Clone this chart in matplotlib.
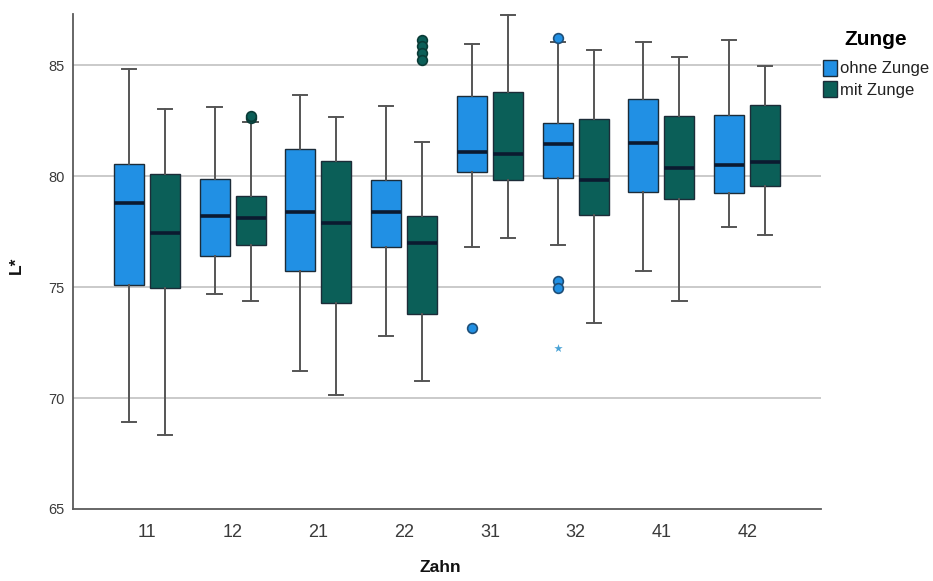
import matplotlib
matplotlib.use("Agg")
import matplotlib.pyplot as plt
from matplotlib.patches import Patch

plt.rcParams["font.family"] = ["Liberation Sans", "DejaVu Sans"]

# Teeth (x categories) and the two groups
teeth = ["11", "12", "21", "22", "31", "32", "41", "42"]
groups = ["ohne Zunge", "mit Zunge"]

# Box statistics for L* — ohne Zunge
ohne_lo = [68.9, 74.7, 71.2, 72.8, 76.8, 76.9, 75.7, 77.7]
ohne_q1 = [75.1, 76.4, 75.7, 76.8, 80.2, 79.9, 79.3, 79.25]
ohne_med = [78.8, 78.2, 78.4, 78.4, 81.1, 81.45, 81.5, 80.5]
ohne_q3 = [80.55, 79.85, 81.2, 79.8, 83.6, 82.4, 83.45, 82.75]
ohne_hi = [84.8, 83.1, 83.65, 83.15, 85.95, 86.05, 86.05, 86.15]
ohne_out = [[], [], [], [], [73.15], [86.2, 75.25, 74.95], [], []]
ohne_extreme = [[], [], [], [], [], [72.25], [], []]

# Box statistics for L* — mit Zunge
mit_lo = [68.35, 74.35, 70.15, 70.75, 77.2, 73.4, 74.35, 77.35]
mit_q1 = [74.95, 76.9, 74.3, 73.8, 79.8, 78.25, 78.95, 79.55]
mit_med = [77.45, 78.1, 77.9, 77.0, 81.0, 79.8, 80.35, 80.65]
mit_q3 = [80.1, 79.1, 80.7, 78.2, 83.8, 82.55, 82.7, 83.2]
mit_hi = [83.0, 82.45, 82.65, 81.55, 87.25, 85.7, 85.35, 84.95]
mit_out = [[], [82.6, 82.7], [], [86.15, 85.85, 85.55, 85.25], [], [], [], []]
mit_extreme = [[], [], [], [], [], [], [], []]

y_ticks = [65, 70, 75, 80, 85]

blue = "#2190e4"
green = "#0b5f58"
edge = "#1c2c38"

W, H = 933, 581
fig = plt.figure(figsize=(W / 100, H / 100), dpi=100)
ax = fig.add_axes([73 / W, 1 - 509 / H, (821 - 73) / W, (509 - 14) / H])


def make_stats(lo, q1, med, q3, hi, out):
    return [dict(whislo=a, q1=b, med=c, q3=d, whishi=e, fliers=f)
            for a, b, c, d, e, f in zip(lo, q1, med, q3, hi, out)]


series = [
    (make_stats(ohne_lo, ohne_q1, ohne_med, ohne_q3, ohne_hi, ohne_out), -0.21, blue, "#1f4f78", ohne_extreme),
    (make_stats(mit_lo, mit_q1, mit_med, mit_q3, mit_hi, mit_out), 0.21, green, "#0a3c37", mit_extreme),
]

for stats, offset, color, fl_edge, extreme in series:
    pos = [i + offset for i in range(len(teeth))]
    ax.bxp(
        stats, positions=pos, widths=0.35, capwidths=0.165,
        patch_artist=True, showfliers=True,
        boxprops=dict(facecolor=color, edgecolor=edge, linewidth=1.0),
        medianprops=dict(color="#0b1a30", linewidth=2.6),
        whiskerprops=dict(color="#555555", linewidth=1.4),
        capprops=dict(color="#555555", linewidth=1.4),
        flierprops=dict(marker="o", markersize=7, markerfacecolor=color,
                        markeredgecolor=fl_edge, markeredgewidth=1.2),
        zorder=3,
    )
    for p, ex in zip(pos, extreme):
        if ex:
            ax.scatter([p] * len(ex), ex, marker="*", s=40, color="#4aa3d6",
                       zorder=4, linewidths=0)

ax.set_xlim(-0.86, len(teeth) - 1 + 0.86)
ax.set_ylim(65, 87.3)
ax.set_xticks(range(len(teeth)))
ax.set_xticklabels(teeth)
ax.set_yticks(y_ticks)

for y in y_ticks[1:]:
    ax.axhline(y, color="#c6c6c6", linewidth=1.3, zorder=0)

for s in ["top", "right"]:
    ax.spines[s].set_visible(False)
for s in ["left", "bottom"]:
    ax.spines[s].set_color("#5a5a5a")
    ax.spines[s].set_linewidth(1.3)

ax.tick_params(axis="x", length=0, pad=11, labelsize=13, labelcolor="#3a3a3a")
ax.tick_params(axis="y", length=0, pad=6, labelsize=10.5, labelcolor="#3a3a3a")

# Axis titles
fig.text(440 / W, 1 - 567 / H, "Zahn", fontsize=12.5, fontweight="bold",
         color="#111111", ha="center", va="center")
fig.text(16 / W, 1 - 265 / H, "L*", fontsize=12.5, fontweight="bold",
         color="#111111", ha="center", va="center", rotation=90)

handles = [Patch(facecolor=blue, edgecolor=edge, linewidth=1.0),
           Patch(facecolor=green, edgecolor=edge, linewidth=1.0)]
leg = fig.legend(handles, groups, loc="upper left",
                 bbox_to_anchor=(821 / W, 1 - 28 / H),
                 frameon=False, handlelength=0.85, handleheight=1.1,
                 handletextpad=0.2, labelspacing=0.3, fontsize=12,
                 title="Zunge", title_fontproperties=dict(weight="bold", size=15),
                 borderaxespad=0, borderpad=0.1)
leg._legend_box.sep = 8
for t in leg.get_texts():
    t.set_color("#222222")

fig.savefig("out.png", dpi=100)
